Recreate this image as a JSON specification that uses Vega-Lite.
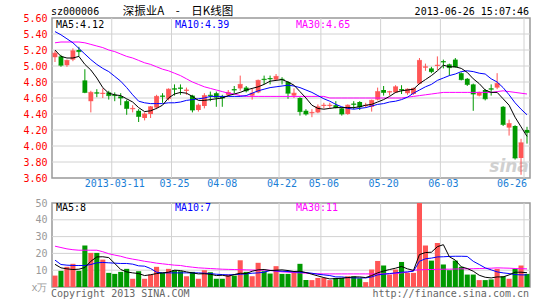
{
"$schema": "https://vega.github.io/schema/vega-lite/v6.json",
"autosize": {"type": "pad"},
"padding": {"left": 22, "top": 5, "right": 14, "bottom": 2},
"background": "white",
"spacing": 25,
"bounds": "flush",
"config": {
  "font": "DejaVu Sans Mono",
  "view": {"stroke": "#999", "strokeWidth": 1.5},
  "axis": {"domain": false, "title": null, "ticks": false, "grid": false, "labelOverlap": false, "labelFont": "DejaVu Sans Mono", "labelFontSize": 10}
},
"datasets": {
  "pgrid": [{"g":3.8},{"g":4.0},{"g":4.2},{"g":4.4},{"g":4.6},{"g":4.8},{"g":5.0},{"g":5.2},{"g":5.4}],
  "vgrid": [{"g":10},{"g":20},{"g":30},{"g":40}],
  "dgrid": [{"gd":"2013-03-11"},{"gd":"2013-03-25"},{"gd":"2013-04-08"},{"gd":"2013-04-22"},{"gd":"2013-05-06"},{"gd":"2013-05-20"},{"gd":"2013-06-03"},{"gd":"2013-06-26"}]
},
"data": {"values": [
{"d":"2013-02-25","o":5.11,"h":5.19,"l":5.05,"c":5.16,"v":6.8,"m5":5.20,"m10":5.43,"m30":5.29,"v5":13.5,"v10":16.0,"v30":24.3},
{"d":"2013-02-26","o":5.12,"h":5.14,"l":4.99,"c":5.01,"v":9.6,"m5":5.12,"m10":5.39,"m30":5.30,"v5":11.4,"v10":13.4,"v30":23.5},
{"d":"2013-02-27","o":5.01,"h":5.08,"l":4.99,"c":5.07,"v":12.0,"m5":5.10,"m10":5.34,"m30":5.30,"v5":10.8,"v10":13.0,"v30":22.7},
{"d":"2013-02-28","o":5.08,"h":5.22,"l":5.06,"c":5.19,"v":13.8,"m5":5.10,"m10":5.29,"m30":5.30,"v5":10.4,"v10":12.8,"v30":22.2},
{"d":"2013-03-01","o":5.20,"h":5.24,"l":5.12,"c":5.18,"v":9.6,"m5":5.12,"m10":5.22,"m30":5.30,"v5":10.6,"v10":12.8,"v30":21.9},
{"d":"2013-03-04","o":4.82,"h":4.96,"l":4.66,"c":4.67,"v":24.7,"m5":5.02,"m10":5.15,"m30":5.29,"v5":11.6,"v10":12.8,"v30":21.9},
{"d":"2013-03-05","o":4.56,"h":4.69,"l":4.42,"c":4.67,"v":20.3,"m5":4.95,"m10":5.08,"m30":5.27,"v5":15.3,"v10":13.4,"v30":21.9},
{"d":"2013-03-06","o":4.67,"h":4.71,"l":4.61,"c":4.66,"v":20.3,"m5":4.85,"m10":5.02,"m30":5.25,"v5":17.9,"v10":14.4,"v30":21.9},
{"d":"2013-03-07","o":4.65,"h":4.72,"l":4.60,"c":4.66,"v":16.3,"m5":4.73,"m10":4.97,"m30":5.23,"v5":18.0,"v10":14.6,"v30":21.0},
{"d":"2013-03-08","o":4.67,"h":4.69,"l":4.58,"c":4.63,"v":8.4,"m5":4.66,"m10":4.93,"m30":5.20,"v5":17.5,"v10":14.4,"v30":19.8},
{"d":"2013-03-11","o":4.64,"h":4.67,"l":4.56,"c":4.63,"v":7.8,"m5":4.64,"m10":4.87,"m30":5.18,"v5":14.0,"v10":14.2,"v30":19.0},
{"d":"2013-03-12","o":4.62,"h":4.66,"l":4.51,"c":4.60,"v":9.0,"m5":4.63,"m10":4.81,"m30":5.15,"v5":10.4,"v10":14.0,"v30":18.3},
{"d":"2013-03-13","o":4.56,"h":4.58,"l":4.39,"c":4.47,"v":10.8,"m5":4.59,"m10":4.73,"m30":5.12,"v5":9.0,"v10":14.0,"v30":17.3},
{"d":"2013-03-14","o":4.46,"h":4.51,"l":4.42,"c":4.47,"v":4.9,"m5":4.55,"m10":4.64,"m30":5.10,"v5":8.4,"v10":13.6,"v30":16.6},
{"d":"2013-03-15","o":4.44,"h":4.46,"l":4.30,"c":4.37,"v":9.4,"m5":4.48,"m10":4.56,"m30":5.07,"v5":8.0,"v10":12.6,"v30":16.0},
{"d":"2013-03-18","o":4.35,"h":4.42,"l":4.32,"c":4.40,"v":4.9,"m5":4.43,"m10":4.54,"m30":5.04,"v5":6.8,"v10":12.4,"v30":15.3},
{"d":"2013-03-19","o":4.40,"h":4.50,"l":4.35,"c":4.49,"v":7.4,"m5":4.44,"m10":4.53,"m30":5.02,"v5":7.3,"v10":11.0,"v30":14.8},
{"d":"2013-03-20","o":4.48,"h":4.64,"l":4.46,"c":4.62,"v":12.0,"m5":4.47,"m10":4.53,"m30":4.99,"v5":8.0,"v10":8.8,"v30":14.2},
{"d":"2013-03-21","o":4.63,"h":4.66,"l":4.54,"c":4.62,"v":8.4,"m5":4.51,"m10":4.53,"m30":4.96,"v5":8.4,"v10":8.4,"v30":13.8},
{"d":"2013-03-22","o":4.59,"h":4.72,"l":4.57,"c":4.71,"v":10.8,"m5":4.60,"m10":4.54,"m30":4.94,"v5":8.8,"v10":8.4,"v30":13.4},
{"d":"2013-03-25","o":4.72,"h":4.77,"l":4.63,"c":4.71,"v":10.0,"m5":4.65,"m10":4.54,"m30":4.91,"v5":10.0,"v10":8.4,"v30":13.0},
{"d":"2013-03-26","o":4.73,"h":4.77,"l":4.64,"c":4.72,"v":9.4,"m5":4.67,"m10":4.55,"m30":4.88,"v5":9.8,"v10":8.4,"v30":12.8},
{"d":"2013-03-27","o":4.69,"h":4.73,"l":4.64,"c":4.70,"v":6.4,"m5":4.66,"m10":4.57,"m30":4.84,"v5":9.0,"v10":8.4,"v30":12.2},
{"d":"2013-03-28","o":4.63,"h":4.64,"l":4.42,"c":4.45,"v":9.0,"m5":4.62,"m10":4.58,"m30":4.80,"v5":8.4,"v10":8.4,"v30":11.8},
{"d":"2013-03-29","o":4.45,"h":4.53,"l":4.43,"c":4.51,"v":4.9,"m5":4.57,"m10":4.59,"m30":4.77,"v5":7.8,"v10":8.4,"v30":11.4},
{"d":"2013-04-01","o":4.50,"h":4.66,"l":4.47,"c":4.63,"v":10.0,"m5":4.57,"m10":4.60,"m30":4.74,"v5":7.9,"v10":8.2,"v30":11.2},
{"d":"2013-04-02","o":4.64,"h":4.68,"l":4.56,"c":4.63,"v":8.8,"m5":4.58,"m10":4.62,"m30":4.72,"v5":7.6,"v10":8.0,"v30":11.0},
{"d":"2013-04-03","o":4.66,"h":4.68,"l":4.49,"c":4.61,"v":4.9,"m5":4.59,"m10":4.62,"m30":4.70,"v5":6.8,"v10":7.6,"v30":10.8},
{"d":"2013-04-08","o":4.62,"h":4.64,"l":4.49,"c":4.60,"v":4.9,"m5":4.60,"m10":4.62,"m30":4.68,"v5":7.0,"v10":7.4,"v30":10.6},
{"d":"2013-04-09","o":4.64,"h":4.70,"l":4.62,"c":4.67,"v":7.4,"m5":4.63,"m10":4.62,"m30":4.66,"v5":6.4,"v10":7.2,"v30":10.5},
{"d":"2013-04-10","o":4.71,"h":4.75,"l":4.66,"c":4.70,"v":6.8,"m5":4.65,"m10":4.62,"m30":4.65,"v5":7.4,"v10":7.4,"v30":10.4},
{"d":"2013-04-11","o":4.72,"h":4.88,"l":4.69,"c":4.77,"v":15.9,"m5":4.67,"m10":4.62,"m30":4.63,"v5":8.2,"v10":7.6,"v30":10.3},
{"d":"2013-04-12","o":4.73,"h":4.75,"l":4.67,"c":4.69,"v":9.0,"m5":4.70,"m10":4.63,"m30":4.62,"v5":8.0,"v10":7.8,"v30":10.2},
{"d":"2013-04-15","o":4.63,"h":4.72,"l":4.58,"c":4.66,"v":6.4,"m5":4.72,"m10":4.66,"m30":4.62,"v5":9.4,"v10":8.2,"v30":10.1},
{"d":"2013-04-16","o":4.67,"h":4.83,"l":4.66,"c":4.82,"v":14.4,"m5":4.74,"m10":4.69,"m30":4.62,"v5":10.2,"v10":8.4,"v30":10.0},
{"d":"2013-04-17","o":4.84,"h":4.88,"l":4.77,"c":4.83,"v":9.4,"m5":4.77,"m10":4.71,"m30":4.62,"v5":10.4,"v10":8.8,"v30":10.0},
{"d":"2013-04-18","o":4.85,"h":4.88,"l":4.77,"c":4.84,"v":8.0,"m5":4.81,"m10":4.73,"m30":4.62,"v5":9.8,"v10":9.8,"v30":10.0},
{"d":"2013-04-19","o":4.83,"h":4.90,"l":4.82,"c":4.87,"v":12.4,"m5":4.82,"m10":4.74,"m30":4.62,"v5":10.0,"v10":9.6,"v30":9.4},
{"d":"2013-04-22","o":4.84,"h":4.86,"l":4.77,"c":4.83,"v":7.8,"m5":4.83,"m10":4.75,"m30":4.62,"v5":10.2,"v10":9.4,"v30":9.0},
{"d":"2013-04-23","o":4.80,"h":4.81,"l":4.59,"c":4.66,"v":7.8,"m5":4.80,"m10":4.76,"m30":4.62,"v5":9.8,"v10":9.2,"v30":8.8},
{"d":"2013-04-24","o":4.63,"h":4.72,"l":4.60,"c":4.66,"v":8.4,"m5":4.76,"m10":4.75,"m30":4.62,"v5":9.2,"v10":9.0,"v30":8.6},
{"d":"2013-04-25","o":4.60,"h":4.61,"l":4.38,"c":4.43,"v":13.8,"m5":4.68,"m10":4.73,"m30":4.62,"v5":9.4,"v10":8.8,"v30":8.4},
{"d":"2013-04-26","o":4.44,"h":4.46,"l":4.38,"c":4.40,"v":4.1,"m5":4.60,"m10":4.70,"m30":4.62,"v5":8.6,"v10":8.6,"v30":8.2},
{"d":"2013-05-02","o":4.41,"h":4.46,"l":4.36,"c":4.42,"v":4.1,"m5":4.51,"m10":4.67,"m30":4.62,"v5":7.6,"v10":8.2,"v30":8.0},
{"d":"2013-05-03","o":4.42,"h":4.52,"l":4.41,"c":4.49,"v":5.4,"m5":4.47,"m10":4.63,"m30":4.62,"v5":6.6,"v10":7.6,"v30":7.9},
{"d":"2013-05-06","o":4.50,"h":4.54,"l":4.47,"c":4.51,"v":5.4,"m5":4.46,"m10":4.59,"m30":4.62,"v5":5.6,"v10":7.2,"v30":7.8},
{"d":"2013-05-07","o":4.50,"h":4.54,"l":4.47,"c":4.51,"v":4.1,"m5":4.47,"m10":4.56,"m30":4.60,"v5":4.8,"v10":6.8,"v30":7.8},
{"d":"2013-05-08","o":4.51,"h":4.56,"l":4.47,"c":4.48,"v":5.4,"m5":4.48,"m10":4.52,"m30":4.60,"v5":5.0,"v10":6.0,"v30":7.8},
{"d":"2013-05-09","o":4.47,"h":4.48,"l":4.38,"c":4.40,"v":5.4,"m5":4.48,"m10":4.49,"m30":4.60,"v5":5.2,"v10":6.0,"v30":7.8},
{"d":"2013-05-10","o":4.40,"h":4.52,"l":4.39,"c":4.51,"v":6.4,"m5":4.48,"m10":4.47,"m30":4.60,"v5":5.6,"v10":5.6,"v30":7.8},
{"d":"2013-05-13","o":4.53,"h":4.56,"l":4.46,"c":4.52,"v":6.4,"m5":4.48,"m10":4.46,"m30":4.60,"v5":6.0,"v10":5.4,"v30":7.8},
{"d":"2013-05-14","o":4.55,"h":4.56,"l":4.45,"c":4.49,"v":5.2,"m5":4.49,"m10":4.47,"m30":4.60,"v5":6.0,"v10":5.4,"v30":7.8},
{"d":"2013-05-15","o":4.50,"h":4.54,"l":4.48,"c":4.51,"v":2.9,"m5":4.51,"m10":4.48,"m30":4.60,"v5":5.6,"v10":5.4,"v30":7.8},
{"d":"2013-05-16","o":4.49,"h":4.58,"l":4.43,"c":4.57,"v":10.4,"m5":4.52,"m10":4.50,"m30":4.60,"v5":6.8,"v10":6.0,"v30":7.8},
{"d":"2013-05-17","o":4.58,"h":4.73,"l":4.57,"c":4.68,"v":15.5,"m5":4.55,"m10":4.52,"m30":4.60,"v5":8.4,"v10":7.2,"v30":7.8},
{"d":"2013-05-20","o":4.70,"h":4.75,"l":4.63,"c":4.67,"v":12.8,"m5":4.58,"m10":4.53,"m30":4.60,"v5":9.5,"v10":7.6,"v30":7.8},
{"d":"2013-05-21","o":4.67,"h":4.69,"l":4.63,"c":4.68,"v":7.4,"m5":4.62,"m10":4.55,"m30":4.60,"v5":10.4,"v10":8.0,"v30":7.9},
{"d":"2013-05-22","o":4.67,"h":4.76,"l":4.66,"c":4.74,"v":10.4,"m5":4.67,"m10":4.56,"m30":4.60,"v5":11.2,"v10":8.4,"v30":8.0},
{"d":"2013-05-23","o":4.71,"h":4.76,"l":4.65,"c":4.70,"v":14.9,"m5":4.69,"m10":4.58,"m30":4.60,"v5":12.2,"v10":8.8,"v30":8.4},
{"d":"2013-05-24","o":4.66,"h":4.72,"l":4.64,"c":4.71,"v":8.4,"m5":4.70,"m10":4.61,"m30":4.61,"v5":10.8,"v10":9.0,"v30":8.8},
{"d":"2013-05-27","o":4.65,"h":4.73,"l":4.64,"c":4.72,"v":8.4,"m5":4.71,"m10":4.66,"m30":4.62,"v5":9.9,"v10":9.4,"v30":10.0},
{"d":"2013-05-28","o":4.78,"h":5.10,"l":4.77,"c":5.07,"v":50,"m5":4.78,"m10":4.70,"m30":4.63,"v5":19.3,"v10":15.3,"v30":10.2},
{"d":"2013-05-29","o":4.98,"h":5.03,"l":4.94,"c":4.99,"v":24.7,"m5":4.83,"m10":4.74,"m30":4.64,"v5":20.5,"v10":16.8,"v30":10.4},
{"d":"2013-05-30","o":4.97,"h":4.99,"l":4.91,"c":4.93,"v":15.7,"m5":4.88,"m10":4.77,"m30":4.65,"v5":20.7,"v10":17.2,"v30":10.4},
{"d":"2013-05-31","o":5.00,"h":5.12,"l":4.95,"c":5.01,"v":26.2,"m5":4.94,"m10":4.82,"m30":4.66,"v5":24.0,"v10":17.9,"v30":10.5},
{"d":"2013-06-03","o":5.06,"h":5.08,"l":4.97,"c":5.05,"v":13.4,"m5":5.01,"m10":4.85,"m30":4.67,"v5":25.2,"v10":18.0,"v30":10.6},
{"d":"2013-06-04","o":5.02,"h":5.03,"l":4.88,"c":4.98,"v":10.0,"m5":4.99,"m10":4.88,"m30":4.67,"v5":18.0,"v10":18.2,"v30":10.6},
{"d":"2013-06-05","o":5.08,"h":5.10,"l":4.98,"c":4.99,"v":15.7,"m5":4.99,"m10":4.90,"m30":4.67,"v5":16.0,"v10":18.3,"v30":10.7},
{"d":"2013-06-06","o":4.91,"h":4.92,"l":4.82,"c":4.83,"v":12.0,"m5":4.97,"m10":4.93,"m30":4.67,"v5":12.0,"v10":18.3,"v30":10.8},
{"d":"2013-06-07","o":4.84,"h":4.85,"l":4.75,"c":4.77,"v":7.4,"m5":4.92,"m10":4.94,"m30":4.67,"v5":11.0,"v10":18.2,"v30":10.8},
{"d":"2013-06-13","o":4.77,"h":4.78,"l":4.44,"c":4.65,"v":7.4,"m5":4.84,"m10":4.93,"m30":4.67,"v5":9.4,"v10":15.3,"v30":10.9},
{"d":"2013-06-14","o":4.63,"h":4.68,"l":4.62,"c":4.67,"v":4.1,"m5":4.78,"m10":4.91,"m30":4.67,"v5":7.0,"v10":13.4,"v30":11.0},
{"d":"2013-06-17","o":4.70,"h":4.71,"l":4.57,"c":4.59,"v":4.1,"m5":4.70,"m10":4.90,"m30":4.67,"v5":5.8,"v10":11.4,"v30":11.1},
{"d":"2013-06-18","o":4.72,"h":4.77,"l":4.63,"c":4.71,"v":4.5,"m5":4.67,"m10":4.84,"m30":4.67,"v5":5.4,"v10":10.2,"v30":11.2},
{"d":"2013-06-19","o":4.73,"h":4.91,"l":4.71,"c":4.78,"v":10.8,"m5":4.67,"m10":4.80,"m30":4.68,"v5":6.0,"v10":9.0,"v30":11.4},
{"d":"2013-06-20","o":4.49,"h":4.50,"l":4.25,"c":4.27,"v":6.4,"m5":4.59,"m10":4.73,"m30":4.69,"v5":6.0,"v10":8.4,"v30":11.3},
{"d":"2013-06-21","o":4.23,"h":4.33,"l":4.13,"c":4.28,"v":4.9,"m5":4.51,"m10":4.64,"m30":4.68,"v5":7.2,"v10":8.0,"v30":11.2},
{"d":"2013-06-24","o":4.25,"h":4.26,"l":3.83,"c":3.85,"v":10.8,"m5":4.36,"m10":4.54,"m30":4.67,"v5":8.8,"v10":7.4,"v30":11.0},
{"d":"2013-06-25","o":3.85,"h":4.09,"l":3.64,"c":4.04,"v":12.8,"m5":4.24,"m10":4.46,"m30":4.66,"v5":8.8,"v10":7.2,"v30":10.9},
{"d":"2013-06-26","o":4.20,"h":4.24,"l":4.03,"c":4.17,"v":7.8,"m5":4.12,"m10":4.39,"m30":4.65,"v5":8.5,"v10":7.2,"v30":10.8}
]},
"vconcat": [
{
  "width": 478, "height": 160,
  "layer": [
    {"data": {"name": "pgrid"}, "mark": {"type": "rule", "color": "#d2d2d2", "strokeWidth": 1},
     "encoding": {"y": {"field": "g", "type": "quantitative"}}},
    {"data": {"name": "dgrid"}, "mark": {"type": "rule", "color": "#d2d2d2", "strokeWidth": 1},
     "encoding": {"x": {"field": "gd", "type": "ordinal", "bandPosition": 0}}},
    {"data": {"values": [{"t": "sina"}]}, "mark": {"type": "text", "align": "center", "baseline": "middle", "fontSize": 17, "font": "DejaVu Sans", "fontStyle": "italic", "fontWeight": "bold", "dy": -11, "color": "#d0d0d0"},
     "encoding": {"x": {"datum": "2013-06-21", "type": "ordinal"}, "y": {"datum": 3.6, "type": "quantitative"}, "text": {"field": "t"}}},
    {"mark": {"type": "rule", "strokeWidth": 1},
     "encoding": {
       "x": {"field": "d", "type": "ordinal", "scale": {"paddingInner": 0, "paddingOuter": 0},
         "axis": {"values": ["2013-03-11","2013-03-25","2013-04-08","2013-04-22","2013-05-06","2013-05-20","2013-06-03","2013-06-26"], "tickCount": 20, "bandPosition": 0, "labelAngle": 0, "labelColor": "#1a7ed6", "labelPadding": 5, "labelFlush": false,
           "labelAlign": {"condition": {"test": "datum.value == '2013-06-26'", "value": "right"}, "value": "center"},
           "labelExpr": "datum.value == '2013-03-11' ? datum.value : slice(datum.value, 5)"}},
       "y": {"field": "l", "type": "quantitative", "scale": {"domain": [3.6, 5.6], "nice": false, "zero": false},
         "axis": {"values": [3.6,3.8,4.0,4.2,4.4,4.6,4.8,5.0,5.2,5.4,5.6], "tickCount": 20, "format": ".2f", "labelColor": "#ff0000", "labelPadding": 5}},
       "y2": {"field": "h"},
       "color": {"condition": {"test": "datum.c >= datum.o", "value": "#ff5555"}, "value": "#009900"}}},
    {"mark": {"type": "bar", "width": {"band": 0.8}},
     "encoding": {"x": {"field": "d", "type": "ordinal"}, "y": {"field": "o", "type": "quantitative"}, "y2": {"field": "c"},
       "color": {"condition": {"test": "datum.c >= datum.o", "value": "#ff5555"}, "value": "#009900"}}},
    {"mark": {"type": "tick", "thickness": 1, "size": 5},
     "encoding": {"x": {"field": "d", "type": "ordinal"}, "y": {"field": "c", "type": "quantitative"},
       "color": {"condition": {"test": "datum.c >= datum.o", "value": "#ff5555"}, "value": "#009900"}}},
    {"mark": {"type": "line", "strokeWidth": 1, "color": "#ff00ff"}, "encoding": {"x": {"field": "d", "type": "ordinal"}, "y": {"field": "m30", "type": "quantitative"}}},
    {"mark": {"type": "line", "strokeWidth": 1, "color": "#0000ff"}, "encoding": {"x": {"field": "d", "type": "ordinal"}, "y": {"field": "m10", "type": "quantitative"}}},
    {"mark": {"type": "line", "strokeWidth": 1, "color": "#000000"}, "encoding": {"x": {"field": "d", "type": "ordinal"}, "y": {"field": "m5", "type": "quantitative"}}},
    {"data": {"values": [{"t": "MA5:4.12"}]}, "mark": {"type": "text", "align": "left", "baseline": "middle", "fontSize": 10, "dx": 1, "dy": 6.5, "color": "#000"},
     "encoding": {"x": {"datum": "2013-02-25", "type": "ordinal"}, "y": {"datum": 5.6, "type": "quantitative"}, "text": {"field": "t"}}},
    {"data": {"values": [{"t": "MA10:4.39"}]}, "mark": {"type": "text", "align": "left", "baseline": "middle", "fontSize": 10, "dx": 0.5, "dy": 6.5, "color": "#0000ff"},
     "encoding": {"x": {"datum": "2013-03-25", "type": "ordinal"}, "y": {"datum": 5.6, "type": "quantitative"}, "text": {"field": "t"}}},
    {"data": {"values": [{"t": "MA30:4.65"}]}, "mark": {"type": "text", "align": "left", "baseline": "middle", "fontSize": 10, "dx": 2, "dy": 6.5, "color": "#ff00ff"},
     "encoding": {"x": {"datum": "2013-04-24", "type": "ordinal"}, "y": {"datum": 5.6, "type": "quantitative"}, "text": {"field": "t"}}},
    {"data": {"values": [{"t": "sz000006"}]}, "mark": {"type": "text", "align": "left", "baseline": "middle", "fontSize": 10, "dx": -4, "dy": -6, "color": "#000"},
     "encoding": {"x": {"datum": "2013-02-25", "type": "ordinal"}, "y": {"datum": 5.6, "type": "quantitative"}, "text": {"field": "t"}}},
    {"data": {"values": [{"t": "深振业A　-　日K线图"}]}, "mark": {"type": "text", "align": "center", "baseline": "middle", "fontSize": 11.5, "font": "Noto Sans CJK SC", "dx": 3.5, "dy": -6, "color": "#000"},
     "encoding": {"x": {"datum": "2013-03-25", "type": "ordinal"}, "y": {"datum": 5.6, "type": "quantitative"}, "text": {"field": "t"}}},
    {"data": {"values": [{"t": "2013-06-26 15:07:46"}]}, "mark": {"type": "text", "align": "right", "baseline": "middle", "fontSize": 10, "dx": 2, "dy": -6, "color": "#000"},
     "encoding": {"x": {"datum": "2013-06-26", "type": "ordinal"}, "y": {"datum": 5.6, "type": "quantitative"}, "text": {"field": "t"}}}
  ]
},
{
  "width": 478, "height": 84,
  "layer": [
    {"data": {"name": "vgrid"}, "mark": {"type": "rule", "color": "#d2d2d2", "strokeWidth": 1},
     "encoding": {"y": {"field": "g", "type": "quantitative"}}},
    {"data": {"name": "dgrid"}, "mark": {"type": "rule", "color": "#d2d2d2", "strokeWidth": 1},
     "encoding": {"x": {"field": "gd", "type": "ordinal", "bandPosition": 0}}},
    {"mark": {"type": "bar", "width": {"band": 0.85}},
     "encoding": {
       "x": {"field": "d", "type": "ordinal", "scale": {"paddingInner": 0, "paddingOuter": 0}, "axis": {"labels": false}},
       "y": {"field": "v", "type": "quantitative", "scale": {"domain": [0, 50], "nice": false},
         "axis": {"values": [0,10,20,30,40,50], "tickCount": 20, "labelColor": "#999", "labelPadding": 5,
           "labelExpr": "datum.value == 0 ? 'x万' : datum.label"}},
       "color": {"condition": {"test": "datum.c >= datum.o", "value": "#ff5555"}, "value": "#009900"}}},
    {"mark": {"type": "line", "strokeWidth": 1, "color": "#ff00ff"}, "encoding": {"x": {"field": "d", "type": "ordinal"}, "y": {"field": "v30", "type": "quantitative"}}},
    {"mark": {"type": "line", "strokeWidth": 1, "color": "#0000ff"}, "encoding": {"x": {"field": "d", "type": "ordinal"}, "y": {"field": "v10", "type": "quantitative"}}},
    {"mark": {"type": "line", "strokeWidth": 1, "color": "#000000"}, "encoding": {"x": {"field": "d", "type": "ordinal"}, "y": {"field": "v5", "type": "quantitative"}}},
    {"data": {"values": [{"t": "MA5:8"}]}, "mark": {"type": "text", "align": "left", "baseline": "middle", "fontSize": 10, "dx": 1, "dy": 4.5, "color": "#000"},
     "encoding": {"x": {"datum": "2013-02-25", "type": "ordinal"}, "y": {"datum": 50, "type": "quantitative"}, "text": {"field": "t"}}},
    {"data": {"values": [{"t": "MA10:7"}]}, "mark": {"type": "text", "align": "left", "baseline": "middle", "fontSize": 10, "dx": 0.5, "dy": 4.5, "color": "#0000ff"},
     "encoding": {"x": {"datum": "2013-03-25", "type": "ordinal"}, "y": {"datum": 50, "type": "quantitative"}, "text": {"field": "t"}}},
    {"data": {"values": [{"t": "MA30:11"}]}, "mark": {"type": "text", "align": "left", "baseline": "middle", "fontSize": 10, "dx": 2, "dy": 4.5, "color": "#ff00ff"},
     "encoding": {"x": {"datum": "2013-04-24", "type": "ordinal"}, "y": {"datum": 50, "type": "quantitative"}, "text": {"field": "t"}}},
    {"data": {"values": [{"t": "Copyright 2013 SINA.COM"}]}, "mark": {"type": "text", "align": "left", "baseline": "middle", "fontSize": 10, "dx": -4, "dy": 6.5, "color": "#666"},
     "encoding": {"x": {"datum": "2013-02-25", "type": "ordinal"}, "y": {"datum": 0, "type": "quantitative"}, "text": {"field": "t"}}},
    {"data": {"values": [{"t": "http://finance.sina.com.cn"}]}, "mark": {"type": "text", "align": "right", "baseline": "middle", "fontSize": 10, "dx": 2, "dy": 6.5, "color": "#666"},
     "encoding": {"x": {"datum": "2013-06-26", "type": "ordinal"}, "y": {"datum": 0, "type": "quantitative"}, "text": {"field": "t"}}}
  ]
}
]
}
